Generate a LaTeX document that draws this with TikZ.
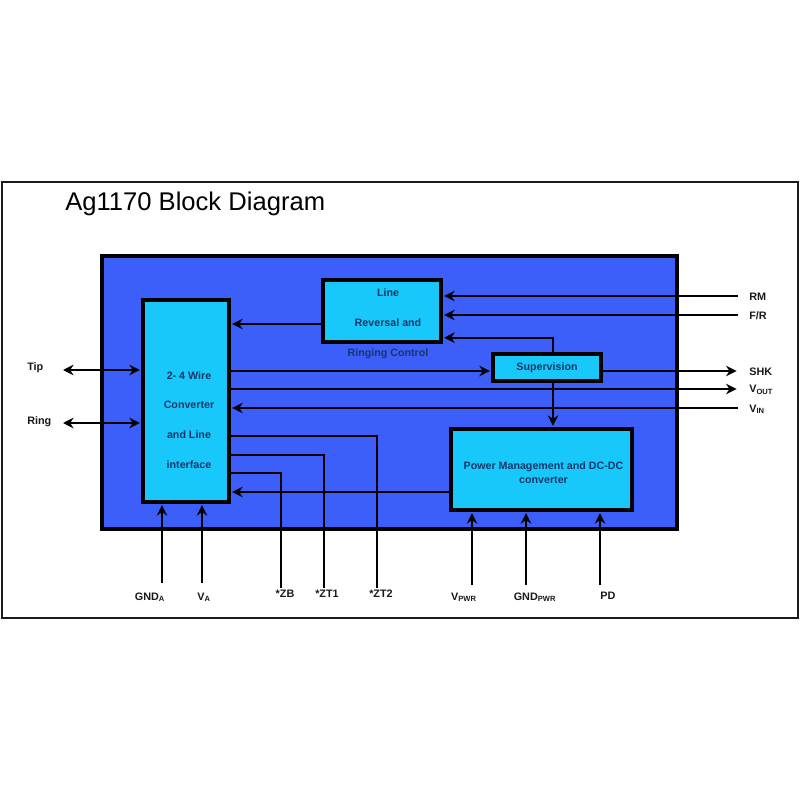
\documentclass[tikz,border=0pt]{standalone}
\usepackage{fontspec}
\setmainfont{Liberation Sans}
\usetikzlibrary{arrows.meta,positioning}
\definecolor{chipblue}{RGB}{60,95,250}
\definecolor{blockcyan}{RGB}{25,200,250}
\definecolor{blocktext}{RGB}{20,55,105}
\definecolor{ink}{RGB}{25,25,25}
\tikzset{
  chip/.style={draw=black,line width=2.4pt,fill=chipblue},
  block/.style={draw=black,line width=2.4pt,fill=blockcyan,inner sep=0pt},
  btxt/.style={text=blocktext,font=\fontsize{7.6}{21.2}\selectfont\bfseries,
    align=center,inner sep=0pt},
  sig/.style={line width=1.5pt,-{Stealth[length=7.5pt,width=7.5pt]},shorten >=1pt},
  bisig/.style={line width=1.5pt,{Stealth[length=7.5pt,width=7.5pt]}-{Stealth[length=7.5pt,width=7.5pt]},
    shorten >=1pt},
  wire/.style={line width=1.4pt},
  pinlbl/.style={text=ink,font=\fontsize{7.7}{9}\selectfont\bfseries,inner sep=0pt},
}

\begin{document}
\begin{tikzpicture}[x=0.025cm,y=-0.025cm]
  \useasboundingbox (0,0) rectangle (800,800);
  \draw[line width=1.8pt,draw=ink] (2,182) rectangle (798,618);
  \node[anchor=base west,font=\fontsize{18.2}{22}\selectfont,inner sep=0pt]
    (title) at (65,210) {Ag1170 Block Diagram};
  \draw[chip] (102,256) rectangle (677,529);

  % blocks
  \node[block,minimum width=2.15cm,minimum height=5.05cm] (conv) at (186,401) {};
  \node[block,minimum width=2.95cm,minimum height=1.55cm] (lrc) at (382,311) {};
  \node[block,btxt,minimum width=2.7cm,minimum height=0.675cm] (sup) at (547,367.5) {Supervision};
  \node[block,minimum width=4.525cm,minimum height=2.025cm] (pwr) at (541.5,469.5) {};

  % pin ends
  \coordinate (rmend) at (738,296);
  \coordinate (frend) at (738,315);
  \coordinate (shkend) at (738,371);
  \coordinate (voutend) at (738,389);
  \coordinate (vinend) at (738,408);
  \coordinate (tipend) at (63,370);
  \coordinate (ringend) at (63,423);
  \coordinate (gndaend) at (162,583);
  \coordinate (vaend) at (202,583);
  \coordinate (zbend) at (281,588);
  \coordinate (zt1end) at (324,588);
  \coordinate (zt2end) at (377,588);
  \coordinate (vpwrend) at (472,585);
  \coordinate (gndpwrend) at (526,585);
  \coordinate (pdend) at (600,585);

  % connectors
  \draw[sig] (rmend) -- (rmend -| lrc.east);
  \draw[sig] (frend) -- (frend -| lrc.east);
  \draw[sig] (lrc.west |- 0,324) -- (conv.east |- 0,324);
  \draw[sig] (sup.north -| 553,0) |- (lrc.east |- 0,337.7);
  \draw[sig] (conv.east |- 0,371) -- (sup.west |- 0,371);
  \draw[sig] (sup.east |- shkend) -- (shkend);
  \draw[sig] (conv.east |- voutend) -- (voutend);
  \draw[sig] (vinend) -- (conv.east |- vinend);
  \draw[sig] (sup.south -| 553,0) -- (pwr.north -| 553,0);
  \draw[wire] (conv.east |- 0,436) -| (zt2end);
  \draw[wire] (conv.east |- 0,455) -| (zt1end);
  \draw[wire] (conv.east |- 0,473) -| (zbend);
  \draw[sig] (pwr.west |- 0,492) -- (conv.east |- 0,492);
  \draw[bisig] (tipend) -- (tipend -| conv.west);
  \draw[bisig] (ringend) -- (ringend -| conv.west);
  \draw[sig] (gndaend) -- (gndaend |- conv.south);
  \draw[sig] (vaend) -- (vaend |- conv.south);
  \draw[sig] (vpwrend) -- (vpwrend |- pwr.south);
  \draw[sig] (gndpwrend) -- (gndpwrend |- pwr.south);
  \draw[sig] (pdend) -- (pdend |- pwr.south);

  % block texts
  \node[btxt] (convtxt) at (189,420) {2- 4 Wire\\Converter\\and Line\\interface};
  \node[btxt] (lrctxt) at (388,323.5) {Line\\Reversal and\\Ringing Control};
  \node[btxt,font=\fontsize{7.6}{10}\selectfont\bfseries] (pwrtxt) at (543.5,473)
    {Power Management and DC-DC\\converter};

  % pin labels
  \node[pinlbl,anchor=west] (rm) at (749,297) {RM};
  \node[pinlbl,anchor=west] (fr) at (749,316) {F/R};
  \node[pinlbl,anchor=west] (shk) at (749,372) {SHK};
  \node[pinlbl,anchor=west] (vout) at (749,390) {V\textsubscript{OUT}};
  \node[pinlbl,anchor=west] (vin) at (749,409) {V\textsubscript{IN}};
  \node[pinlbl,anchor=west] (tip) at (27,368) {Tip};
  \node[pinlbl,anchor=west] (ring) at (27,422) {Ring};
  \node[pinlbl] (gnda) at (150,597) {GND\textsubscript{A}};
  \node[pinlbl] (va) at (204,597) {V\textsubscript{A}};
  \node[pinlbl] (zb) at (285,594) {*ZB};
  \node[pinlbl] (zt1) at (327,594) {*ZT1};
  \node[pinlbl] (zt2) at (381,594) {*ZT2};
  \node[pinlbl] (vpwr) at (464,597) {V\textsubscript{PWR}};
  \node[pinlbl] (gndpwr) at (535,597) {GND\textsubscript{PWR}};
  \node[pinlbl] (pd) at (608,596) {PD};
\end{tikzpicture}
\end{document}
